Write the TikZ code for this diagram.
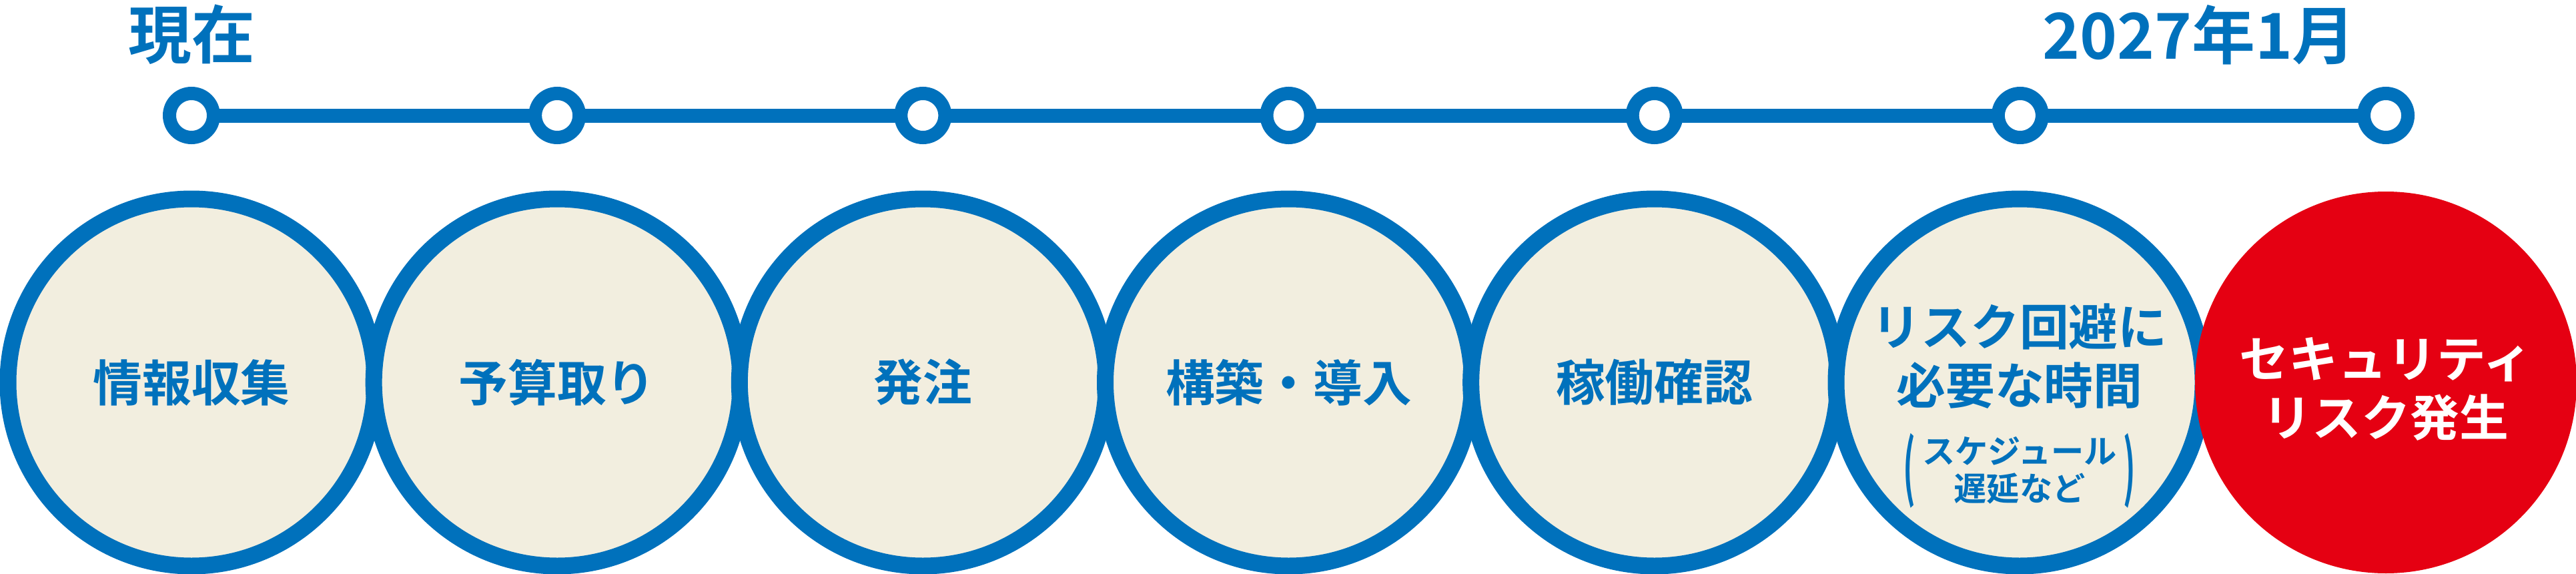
\documentclass[tikz,border=0pt]{standalone}
\usepackage{fontspec}
\setmainfont{Noto Sans CJK JP Bold}
\usepackage{tikz}
\definecolor{lineblue}{HTML}{0071BC}
\definecolor{cream}{HTML}{F2EEDF}
\definecolor{alarmred}{HTML}{E50012}
\tikzset{
  dot/.style={circle,draw=lineblue,line width=0.2cm,fill=white,minimum size=0.66cm,inner sep=0pt},
  stage/.style={circle,draw=lineblue,line width=0.25cm,fill=cream,minimum size=5.5cm,inner sep=0pt},
  stagetext/.style={text=lineblue,font=\fontsize{21}{25}\selectfont,align=center},
  datetext/.style={text=lineblue,font=\fontsize{27}{30}\selectfont}
}
\begin{document}
\begin{tikzpicture}[y=-1cm]
                \useasboundingbox (0,0) rectangle (38.61,8.6);

                %timeline dots, define nodes first
                \foreach \i in {0,...,6}
                  \coordinate (p\i) at ({2.87+5.4817*\i},1.73);
                \draw[lineblue,line width=0.21cm] (p0) -- (p6);
                \foreach \i in {0,...,6}
                  \node[dot] (d\i) at (p\i) {};

                %labels of start and end
                \node[datetext] (now) at (2.87,0.52) {現在};
                \node[datetext] (end) at (32.96,0.52) {2027年1月};

                %the stage circles
                \foreach \i/\t in {0/情報収集,1/予算取り,2/発注,3/構築・導入,4/稼働確認}
                  \node[stage] (s\i) at ({2.87+5.4817*\i},5.73) {};
                \foreach \i/\t in {0/情報収集,1/予算取り,2/発注,3/構築・導入,4/稼働確認}
                  \node[stagetext] at (s\i) {\t};
                \node[stage] (s5) at (30.27,5.73) {};
                \node[circle,fill=alarmred,minimum size=5.72cm,inner sep=0pt] (s6) at (35.76,5.73) {};

                %text of the last two circles
                \node[stagetext] (t5) at (30.27,5.34) {リスク回避に\\必要な時間};
                \node[stagetext,font=\fontsize{14}{16}\selectfont] (n5) at (30.27,7.05) {スケジュール\\遅延など};
                \node[text=lineblue,font=\fontsize{14}{16}\selectfont] at (28.62,7.05) {\scalebox{1}[2.2]{(}};
                \node[text=lineblue,font=\fontsize{14}{16}\selectfont] at (31.92,7.05) {\scalebox{1}[2.2]{)}};
                \node[stagetext,text=white] (t6) at (35.76,5.83) {セキュリティ\\リスク発生};
\end{tikzpicture}
\end{document}
